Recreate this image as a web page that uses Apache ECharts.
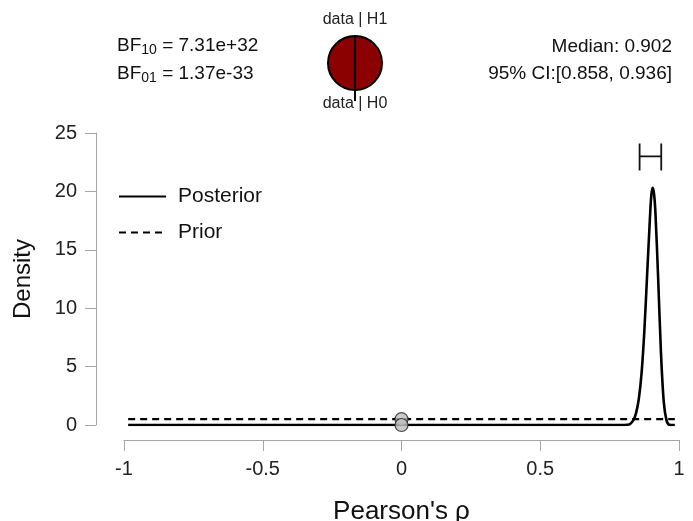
<!DOCTYPE html>
<html>
<head>
<meta charset="utf-8">
<script src="https://cdn.jsdelivr.net/npm/echarts@6/dist/echarts.min.js"></script>
<style>
  html, body { margin: 0; padding: 0; background: #fff; }
  #main { width: 693px; height: 521px; }
</style>
</head>
<body>
<div id="main"></div>
<script>
// 先验（均匀分布，密度 0.5）
var priorX = [-0.985, 0.985];
var priorY = [0.5, 0.5];

// 后验密度
var postX = [-0.985, 0.78, 0.82, 0.835, 0.845, 0.855, 0.865, 0.875, 0.885, 0.895, 0.9, 0.905, 0.91, 0.915, 0.925, 0.935, 0.945, 0.955, 0.965, 0.985];
var postY = [0, 0, 0.05, 0.4, 1.0, 2.2, 4.4, 8.0, 12.8, 17.6, 19.6, 20.3, 19.8, 18.2, 12.5, 6.2, 2.0, 0.4, 0.03, 0];

// 中位数和 95% 可信区间
var ciLower = 0.858, ciUpper = 0.936;
var ciMid = 23, ciTop = 24.1, ciBottom = 21.8;

// 零点处的两个点：先验和后验密度
var pointX = [0, 0];
var pointY = [0.5, 0];

// 坐标轴刻度
var xTicks = [-1, -0.5, 0, 0.5, 1];
var yTicks = [0, 5, 10, 15, 20, 25];

// 饼图 data|H1 vs data|H0
var pieH1 = 1, pieH0 = 0;

function zip(a, b) {
  var out = [];
  for (var i = 0; i < a.length; i++) out.push([a[i], b[i]]);
  return out;
}

var myChart = echarts.init(document.getElementById('main'));
var font = '"Liberation Sans", Arial, sans-serif';
var axisGrey = '#a6a6a6';

var option = {
  animation: false,
  textStyle: { fontFamily: font },
  grid: { left: 124, right: 14, top: 133, bottom: 96, outerBoundsMode: 'none', containLabel: false },
  legend: {
    orient: 'vertical',
    left: 113,
    top: 181,
    itemWidth: 47,
    itemHeight: 14,
    itemGap: 15,
    itemStyle: { opacity: 0 },
    textStyle: { fontSize: 21, color: '#111', fontFamily: font, padding: [0, 0, 0, 7] },
    data: ['Posterior', 'Prior']
  },
  xAxis: {
    type: 'value',
    min: -1, max: 1, interval: 0.5,
    offset: 15,
    axisLine: { onZero: false, lineStyle: { color: axisGrey, width: 1 } },
    axisTick: { length: 11, lineStyle: { color: axisGrey } },
    splitLine: { show: false },
    axisLabel: { fontSize: 20, color: '#222', margin: 19, fontFamily: font,
      formatter: function (v) { return xTicks.indexOf(v) >= 0 ? String(v) : ''; } },
    name: "Pearson's ρ",
    nameLocation: 'middle',
    nameGap: 59,
    nameTextStyle: { fontSize: 26, color: '#111', fontFamily: font }
  },
  yAxis: {
    type: 'value',
    min: 0, max: 25, interval: 5,
    offset: 28,
    axisLine: { show: true, onZero: false, lineStyle: { color: axisGrey, width: 1 } },
    axisTick: { show: true, length: 11, lineStyle: { color: axisGrey } },
    splitLine: { show: false },
    axisLabel: { fontSize: 20, color: '#222', margin: 19, fontFamily: font },
    name: 'Density',
    nameLocation: 'middle',
    nameRotate: 90,
    nameGap: 61,
    nameTextStyle: { fontSize: 24, color: '#111', fontFamily: font }
  },
  series: [
    {
      name: 'Prior',
      type: 'line',
      data: zip(priorX, priorY),
      symbol: 'none',
      lineStyle: { color: '#000', width: 2.4, type: [7, 5] },
      itemStyle: { color: '#000' },
      z: 2
    },
    {
      name: 'Posterior',
      type: 'line',
      data: zip(postX, postY),
      symbol: 'none',
      smooth: 0.3,
      lineStyle: { color: '#000', width: 2.6 },
      itemStyle: { color: '#000' },
      z: 3
    },
    {
      name: 'CI',
      type: 'line',
      data: [[ciLower, ciTop], [ciLower, ciBottom], [ciLower, ciMid], [ciUpper, ciMid], [ciUpper, ciTop], [ciUpper, ciBottom]],
      symbol: 'none',
      lineStyle: { color: '#111', width: 1.8 },
      silent: true,
      z: 3
    },
    {
      name: 'points',
      type: 'scatter',
      data: zip(pointX, pointY),
      symbolSize: 13,
      itemStyle: { color: '#bdbdbd', borderColor: '#222', borderWidth: 1.2 },
      silent: true,
      z: 5
    },
    {
      name: 'pie',
      type: 'pie',
      center: [355, 63],
      radius: 27,
      silent: true,
      label: { show: false },
      labelLine: { show: false },
      startAngle: 90,
      itemStyle: { color: '#8b0000', borderColor: '#000', borderWidth: 2 },
      data: [{ value: pieH1, name: 'data | H1' }, { value: pieH0, name: 'data | H0' }]
    }
  ],
  graphic: [
    {
      type: 'line',
      shape: { x1: 355, y1: 50, x2: 355, y2: 101 },
      style: { stroke: '#000', lineWidth: 2 },
      z: 100
    },
    {
      type: 'text', x: 355, y: 20,
      style: { text: 'data | H1', fontSize: 16, fill: '#222', fontFamily: font, align: 'center', verticalAlign: 'middle' }
    },
    {
      type: 'text', x: 355, y: 104,
      style: { text: 'data | H0', fontSize: 16, fill: '#222', fontFamily: font, align: 'center', verticalAlign: 'middle' }
    },
    {
      type: 'text', left: 117, top: 36,
      style: {
        text: 'BF{s|10} = 7.31e+32',
        fontSize: 19, fill: '#111', fontFamily: font,
        rich: { s: { fontSize: 14, fontFamily: font, fill: '#111', padding: [9, 0, 0, 0] } }
      }
    },
    {
      type: 'text', left: 117, top: 64,
      style: {
        text: 'BF{s|01} = 1.37e-33',
        fontSize: 19, fill: '#111', fontFamily: font,
        rich: { s: { fontSize: 14, fontFamily: font, fill: '#111', padding: [9, 0, 0, 0] } }
      }
    },
    {
      type: 'text', right: 21, top: 37,
      style: { text: 'Median: 0.902', fontSize: 19, fill: '#111', fontFamily: font }
    },
    {
      type: 'text', right: 21, top: 64,
      style: { text: '95% CI:[0.858, 0.936]', fontSize: 19, fill: '#111', fontFamily: font }
    }
  ]
};

myChart.setOption(option);
window.onresize = myChart.resize;
</script>
</body>
</html>
